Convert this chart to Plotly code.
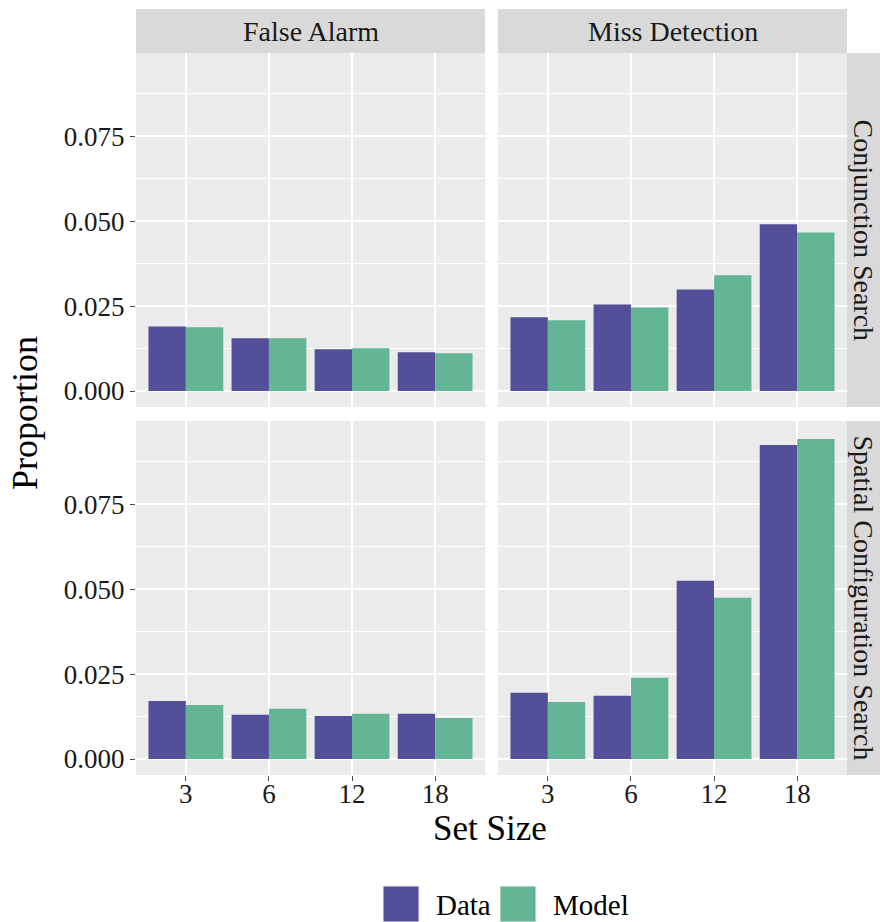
import plotly.graph_objects as go

# ---------------- data ----------------
set_sizes = ["3", "6", "12", "18"]
series_names = ["Data", "Model"]
error_types = ["False Alarm", "Miss Detection"]
search_types = ["Conjunction Search", "Spatial Configuration Search"]

conj_fa_data = [0.0190, 0.0155, 0.0123, 0.0114]
conj_fa_model = [0.0188, 0.0155, 0.0126, 0.0111]
conj_md_data = [0.0217, 0.0255, 0.0299, 0.0491]
conj_md_model = [0.0208, 0.0246, 0.0341, 0.0467]
spat_fa_data = [0.0171, 0.0130, 0.0127, 0.0133]
spat_fa_model = [0.0159, 0.0148, 0.0133, 0.0121]
spat_md_data = [0.0195, 0.0186, 0.0525, 0.0924]
spat_md_model = [0.0168, 0.0239, 0.0475, 0.0942]

y_ticks = [0.0, 0.025, 0.05, 0.075]

# ---------------- style ----------------
W, H = 880, 922
FONT = "Liberation Serif"
colors = {"Data": "#534F99", "Model": "#63B596"}
panel_bg = "#EBEBEB"
strip_bg = "#D9D9D9"

def px_x(p):
    return p / W

def px_y(p):
    return 1 - p / H

col_dom = [[px_x(136), px_x(485)], [px_x(498), px_x(847)]]
row_dom = [[px_y(407), px_y(53)], [px_y(775), px_y(421)]]

facets = [
    # (row, col, data, model)
    (0, 0, conj_fa_data, conj_fa_model),
    (0, 1, conj_md_data, conj_md_model),
    (1, 0, spat_fa_data, spat_fa_model),
    (1, 1, spat_md_data, spat_md_model),
]

fig = go.Figure()
layout = {}
shapes = []
annotations = []

for i, (r, c, dvals, mvals) in enumerate(facets):
    idx = i + 1
    xa = "x" if idx == 1 else f"x{idx}"
    ya = "y" if idx == 1 else f"y{idx}"
    for name, vals in zip(series_names, [dvals, mvals]):
        fig.add_trace(go.Bar(
            x=set_sizes, y=vals, name=name, xaxis=xa, yaxis=ya,
            marker=dict(color=colors[name], line=dict(width=0)),
            showlegend=False,
        ))
    bottom = r == 1
    left = c == 0
    layout[f"xaxis{'' if idx == 1 else idx}"] = dict(
        domain=col_dom[c], anchor=ya, type="category",
        range=[-0.6, 3.6], categoryorder="array", categoryarray=set_sizes,
        showgrid=True, gridcolor="white", gridwidth=1.5,
        showline=False, zeroline=False,
        ticks="outside" if bottom else "", ticklen=5, tickwidth=1.2, tickcolor="#4D4D4D",
        showticklabels=bottom, ticklabelstandoff=-10,
        tickfont=dict(family=FONT, size=27, color="#1A1A1A"),
        fixedrange=True,
    )
    layout[f"yaxis{'' if idx == 1 else idx}"] = dict(
        domain=row_dom[r], anchor=xa,
        range=[-0.0047, 0.0995],
        tickvals=y_ticks, tickformat=".3f",
        showgrid=True, gridcolor="white", gridwidth=1.5,
        minor=dict(dtick=0.0125, tick0=0, showgrid=True, gridcolor="white", gridwidth=0.7),
        showline=False, zeroline=False,
        ticks="outside" if left else "", ticklen=5, tickwidth=1.2, tickcolor="#4D4D4D",
        showticklabels=left,
        tickfont=dict(family=FONT, size=27, color="#1A1A1A"),
        fixedrange=True,
    )
    # panel background
    shapes.append(dict(type="rect", xref="paper", yref="paper",
                       x0=col_dom[c][0], x1=col_dom[c][1],
                       y0=row_dom[r][0], y1=row_dom[r][1],
                       fillcolor=panel_bg, line=dict(width=0), layer="below"))

# top strips
for c, label in enumerate(error_types):
    shapes.append(dict(type="rect", xref="paper", yref="paper",
                       x0=col_dom[c][0], x1=col_dom[c][1],
                       y0=px_y(53), y1=px_y(9),
                       fillcolor=strip_bg, line=dict(width=0), layer="below"))
    annotations.append(dict(text=label, xref="paper", yref="paper",
                            x=(col_dom[c][0] + col_dom[c][1]) / 2, y=(px_y(53) + px_y(9)) / 2,
                            xanchor="center", yanchor="middle", showarrow=False,
                            font=dict(family=FONT, size=28, color="#1A1A1A")))
# right strips
for r, label in enumerate(search_types):
    shapes.append(dict(type="rect", xref="paper", yref="paper",
                       x0=px_x(847), x1=px_x(880),
                       y0=row_dom[r][0], y1=row_dom[r][1],
                       fillcolor=strip_bg, line=dict(width=0), layer="below"))
    annotations.append(dict(text=label, xref="paper", yref="paper",
                            x=px_x(863.5), y=(row_dom[r][0] + row_dom[r][1]) / 2,
                            xanchor="center", yanchor="middle", showarrow=False, textangle=90,
                            font=dict(family=FONT, size=28, color="#1A1A1A")))

# axis titles
annotations.append(dict(text="Proportion", xref="paper", yref="paper",
                        x=px_x(25), y=px_y(413), xanchor="center", yanchor="middle",
                        textangle=-90, showarrow=False,
                        font=dict(family=FONT, size=36, color="black")))
annotations.append(dict(text="Set Size", xref="paper", yref="paper",
                        x=px_x(490), y=px_y(828), xanchor="center", yanchor="middle",
                        showarrow=False,
                        font=dict(family=FONT, size=35, color="black")))

# legend (keys + labels)
key_x = [383, 500]
for name, kx in zip(series_names, key_x):
    shapes.append(dict(type="rect", xref="paper", yref="paper",
                       x0=px_x(kx), x1=px_x(kx + 36), y0=px_y(922), y1=px_y(886),
                       fillcolor=colors[name], line=dict(color="#F2F2F2", width=1)))
    annotations.append(dict(text=name, xref="paper", yref="paper",
                            x=px_x(kx + 51), y=px_y(905), xanchor="left", yanchor="middle",
                            showarrow=False,
                            font=dict(family=FONT, size=29, color="black")))

fig.update_layout(
    width=W, height=H, autosize=False,
    margin=dict(l=0, r=0, t=0, b=0),
    paper_bgcolor="white", plot_bgcolor="rgba(0,0,0,0)",
    barmode="group", bargap=0.1, bargroupgap=0,
    showlegend=False,
    shapes=shapes, annotations=annotations,
    **layout,
)

fig.write_html(
    "out.html",
    config={"displayModeBar": False},
    post_script="document.body.style.margin='0';document.body.style.overflow='hidden';",
)
